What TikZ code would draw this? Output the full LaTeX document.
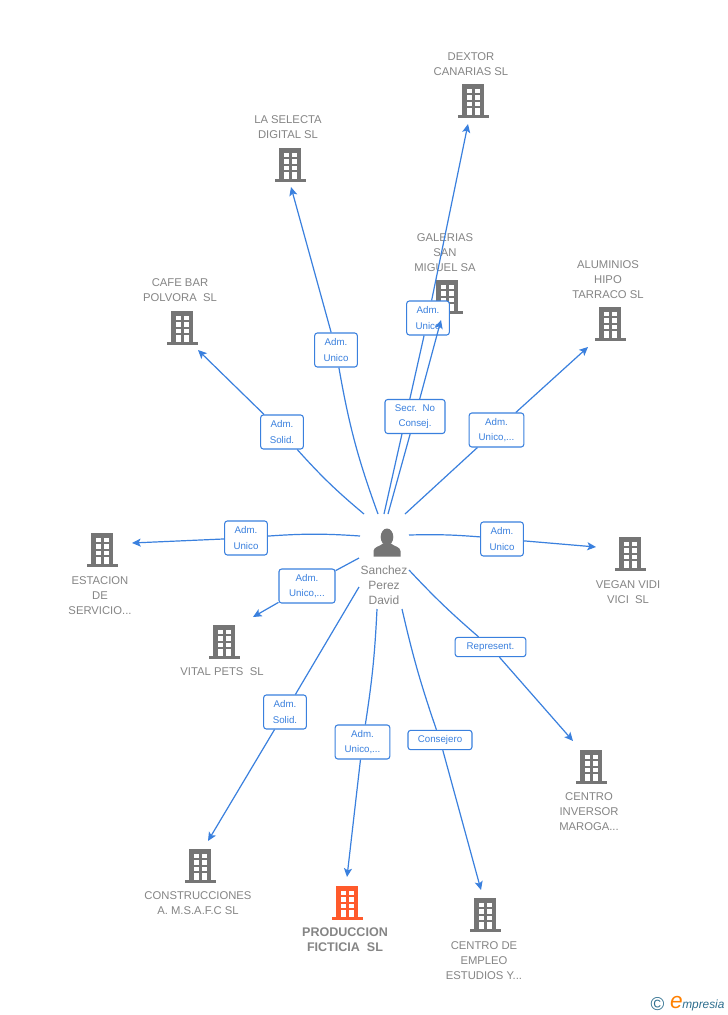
\documentclass[tikz,border=0pt]{standalone}
\usepackage{fontspec}
\setmainfont{Liberation Sans}
\usetikzlibrary{arrows.meta}
\definecolor{linkblue}{HTML}{3A80DE}
\definecolor{icongray}{HTML}{757575}
\definecolor{textgray}{HTML}{858585}
\definecolor{firmorange}{HTML}{FF5A2B}
\definecolor{logoteal}{HTML}{2F6F8F}
\tikzset{
  x=0.75pt,y=-0.75pt,
  conn/.style={draw=linkblue,line width=0.9pt},
  arrowed/.style={conn,-{Stealth[length=6.5pt,width=6pt,inset=1.5pt]}},
  rolebox/.style={draw=linkblue,fill=white,rounded corners=2pt,line width=0.8pt,
    text=linkblue,font=\fontsize{7.3}{11.4}\selectfont,align=center,inner sep=0pt,
    minimum height=25.5pt},
  firmlabel/.style={text=textgray,font=\fontsize{8.45}{11.2}\selectfont,align=center,inner sep=0pt},
  mainlabel/.style={text=textgray,font=\fontsize{9.4}{11.2}\selectfont\bfseries,align=center,inner sep=0pt},
  personlabel/.style={text=textgray,font=\fontsize{9}{11.2}\selectfont,align=center,inner sep=0pt},
  anchorpt/.style={inner sep=0pt,minimum size=0pt},
  pics/bldg/.style={code={
    \fill[#1] (-11,-17) rectangle (11,15);
    \fill[#1] (-15.5,13.5) rectangle (15.5,17);
    \foreach \yy in {-12.5,-6,0.5}{
      \fill[white] (-6.5,\yy) rectangle (-1.5,\yy+4.5);
      \fill[white] (2,\yy) rectangle (7,\yy+4.5);
    }
    \fill[white] (-6.5,7) rectangle (-1.5,14);
    \fill[white] (2,7) rectangle (7,14);
  }}
}
\begin{document}
\begin{tikzpicture}
\useasboundingbox (0,0) rectangle (728,1015);
\fill[white] (0,0) rectangle (728,1015);

% buildings
\foreach \px/\py in {473/101,290/165,447/297,610/324,182/328,102/550,630/554,224/642,591/767,200/866,485/915}{
  \pic at (\px,\py) {bldg=icongray};
}
\pic at (347,903) {bldg=firmorange};

% firm labels
\node[firmlabel] (tDextor) at (471,64) {DEXTOR\\CANARIAS SL};
\node[firmlabel] (tSelecta) at (288,127) {LA SELECTA\\DIGITAL SL};
\node[firmlabel] (tGalerias) at (445,253) {GALERIAS\\SAN\\MIGUEL SA};
\node[firmlabel] (tAluminios) at (608,280) {ALUMINIOS\\HIPO\\TARRACO SL};
\node[firmlabel] (tCafe) at (180,290) {CAFE BAR\\POLVORA~~SL};
\node[firmlabel] (tEstacion) at (100,596) {ESTACION\\DE\\SERVICIO...};
\node[firmlabel] (tVegan) at (628,592) {VEGAN VIDI\\VICI~~SL};
\node[firmlabel] (tVital) at (222,671.500) {VITAL PETS~~SL};
\node[firmlabel] (tInversor) at (589,812) {CENTRO\\INVERSOR\\MAROGA...};
\node[firmlabel] (tConstr) at (198,903.500) {CONSTRUCCIONES\\A. M.S.A.F.C SL};
\node[mainlabel] (tProd) at (345,939.500) {PRODUCCION\\FICTICIA~~SL};
\node[firmlabel] (tEmpleo) at (484,961) {CENTRO DE\\EMPLEO\\ESTUDIOS Y...};

% person
\fill[icongray] (387,537) ellipse (6.3 and 8.5);
\node[anchorpt] (person) at (387,543) {};
\fill[icongray] (373.5,556.5) -- (373.5,551) .. controls (374,546.5) and (380,546.5) .. (383,543.5)
  -- (391,543.5) .. controls (394,546.5) and (400,546.5) .. (400.5,551) -- (400.5,556.5) -- cycle;
\node[personlabel] (tPerson) at (384,585) {Sanchez\\Perez\\David};

% role boxes and connectors
\coordinate (sSelecta) at (378,514); \coordinate (eSelecta) at (291,187);
\coordinate (sCafe) at (364,514); \coordinate (eCafe) at (198,350);
\coordinate (sDextor) at (384,514); \coordinate (eDextor) at (468,124);
\coordinate (sGalerias) at (388,514); \coordinate (eGalerias) at (441,320);
\coordinate (sAluminios) at (405,514); \coordinate (eAluminios) at (588,347);
\coordinate (sEstacion) at (360,536); \coordinate (eEstacion) at (132,543);
\coordinate (sVegan) at (409,535); \coordinate (eVegan) at (596,547);
\coordinate (sVital) at (359,558); \coordinate (eVital) at (253,617);
\coordinate (sInversor) at (409,570); \coordinate (eInversor) at (573,741);
\coordinate (sConstr) at (359,587); \coordinate (eConstr) at (208,841);
\coordinate (sProd) at (377,609); \coordinate (eProd) at (347,877);
\coordinate (sEmpleo) at (402,609); \coordinate (eEmpleo) at (481,890);

\node[rolebox,minimum width=32pt] (rSelecta) at (336,350) {Adm.\\Unico};
\draw[conn] (sSelecta) to[bend left=5] (rSelecta);
\draw[arrowed] (rSelecta) -- (eSelecta);

\node[rolebox,minimum width=32pt] (rCafe) at (282,432) {Adm.\\Solid.};
\draw[conn] (sCafe) to[bend left=4] (rCafe);
\draw[arrowed] (rCafe) -- (eCafe);

\node[rolebox,minimum width=32pt] (rDextor) at (428,318) {Adm.\\Unico};
\draw[conn] (sDextor) -- (rDextor);
\draw[arrowed] (rDextor) -- (eDextor);

\node[rolebox,minimum width=45pt] (rGalerias) at (415,416.500) {Secr.~~No\\Consej.};
\draw[conn] (sGalerias) -- (rGalerias);
\draw[arrowed] (rGalerias) -- (eGalerias);

\node[rolebox,minimum width=41pt] (rAluminios) at (496.500,430) {Adm.\\Unico,...};
\draw[conn] (sAluminios) -- (rAluminios);
\draw[arrowed] (rAluminios) -- (eAluminios);

\node[rolebox,minimum width=32pt] (rEstacion) at (246,538) {Adm.\\Unico};
\draw[conn] (sEstacion) to[bend right=4] (rEstacion);
\draw[arrowed] (rEstacion) -- (eEstacion);

\node[rolebox,minimum width=32pt] (rVegan) at (502,539) {Adm.\\Unico};
\draw[conn] (sVegan) to[bend left=3] (rVegan);
\draw[arrowed] (rVegan) -- (eVegan);

\node[rolebox,minimum width=42pt] (rVital) at (307,586) {Adm.\\Unico,...};
\draw[conn] (sVital) -- (rVital);
\draw[arrowed] (rVital) -- (eVital);

\node[rolebox,minimum width=53pt,minimum height=14.5pt] (rInversor) at (490.500,647) {Represent.};
\draw[conn] (sInversor) to[bend right=3] (rInversor);
\draw[arrowed] (rInversor) -- (eInversor);

\node[rolebox,minimum width=32pt] (rConstr) at (285,712) {Adm.\\Solid.};
\draw[conn] (sConstr) -- (rConstr);
\draw[arrowed] (rConstr) -- (eConstr);

\node[rolebox,minimum width=41pt] (rProd) at (362.500,742) {Adm.\\Unico,...};
\draw[conn] (sProd) to[bend left=3] (rProd);
\draw[arrowed] (rProd) -- (eProd);

\node[rolebox,minimum width=48pt,minimum height=14.5pt] (rEmpleo) at (440,740) {Consejero};
\draw[conn] (sEmpleo) to[bend right=3] (rEmpleo);
\draw[arrowed] (rEmpleo) -- (eEmpleo);

% logo
\node[inner sep=0pt,text=logoteal,font=\fontsize{14}{14}\selectfont] (logoC) at (657.500,1004) {©};
\node[inner sep=0pt,text=orange,font=\fontsize{17}{17}\selectfont\itshape] (logoE) at (676.500,1002.500) {e};
\node[inner sep=0pt,text=logoteal,font=\fontsize{8.9}{12}\selectfont\itshape,anchor=base west] (logoT) at (682,1008) {mpresia};
\end{tikzpicture}
\end{document}
